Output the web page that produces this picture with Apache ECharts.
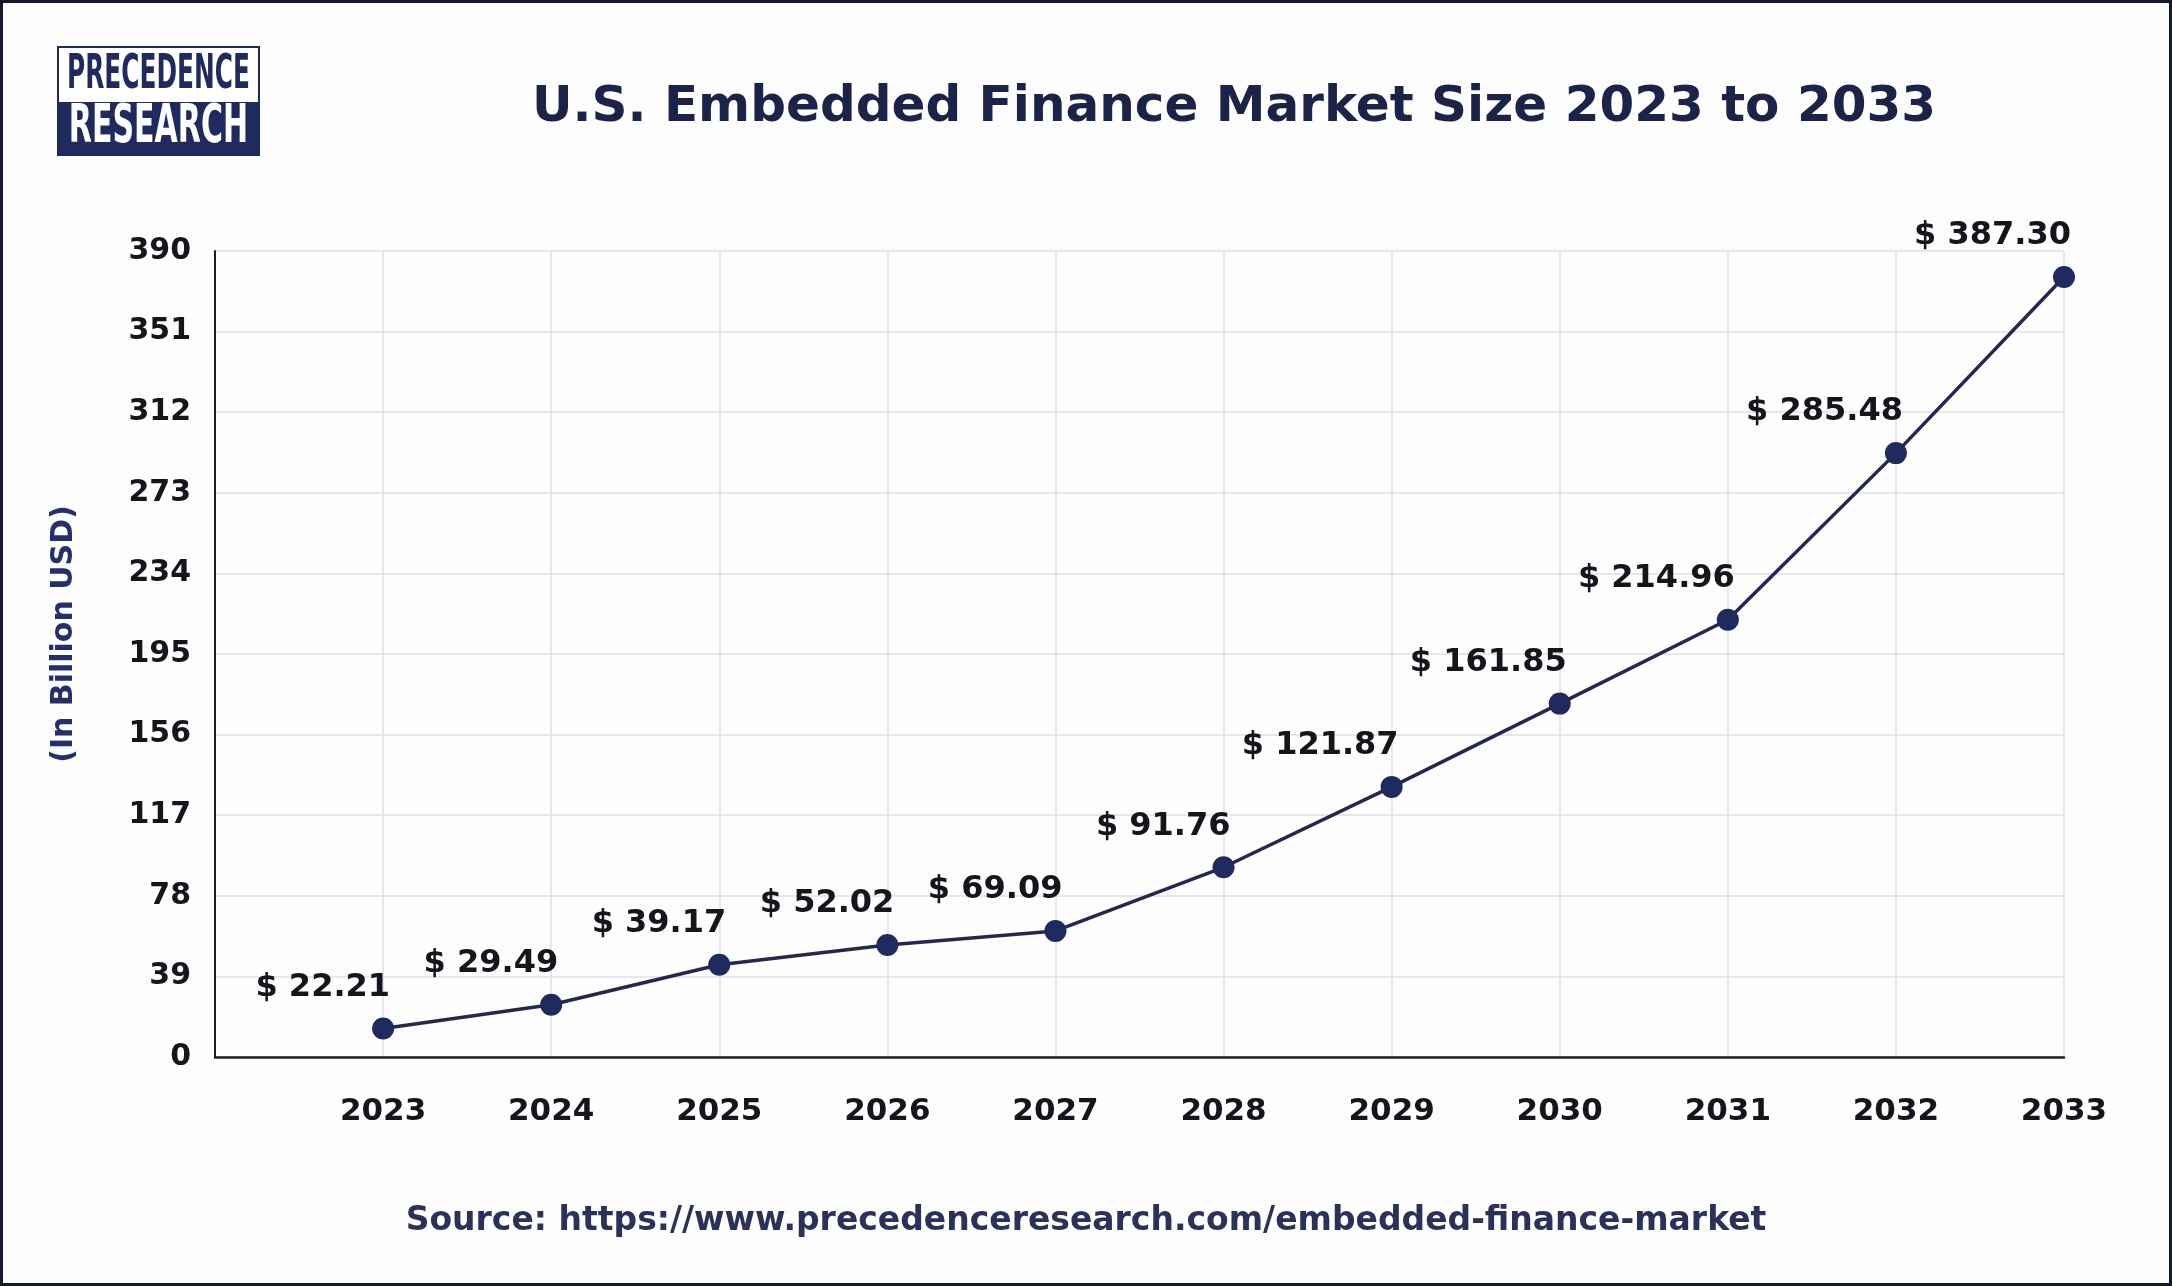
<!DOCTYPE html>
<html>
<head>
<meta charset="utf-8">
<script src="https://cdn.jsdelivr.net/npm/echarts@6/dist/echarts.min.js"></script>
<style>
  html, body { margin: 0; padding: 0; background: #fdfdfe; }
  #chart { width: 2172px; height: 1286px; }
</style>
</head>
<body>
<div id="chart"></div>
<script>
// ---- Data ----
const years = [2023, 2024, 2025, 2026, 2027, 2028, 2029, 2030, 2031, 2032, 2033];
// plotted positions of the markers
const values = [13.8, 25.3, 44.6, 54.2, 61.0, 91.8, 130.7, 171.0, 211.6, 292.2, 377.4];
// printed value labels
const valueLabels = ['$ 22.21', '$ 29.49', '$ 39.17', '$ 52.02', '$ 69.09', '$ 91.76',
                     '$ 121.87', '$ 161.85', '$ 214.96', '$ 285.48', '$ 387.30'];
const yTicks = [0, 39, 78, 117, 156, 195, 234, 273, 312, 351, 390];

const titleText = 'U.S. Embedded Finance Market Size 2023 to 2033';
const yAxisName = '(In Billion USD)';
const sourceText = 'Source: https://www.precedenceresearch.com/embedded-finance-market';

const FONT = "'DejaVu Sans', 'Liberation Sans', sans-serif";
const NAVY = '#1f2a5e';

const chart = echarts.init(document.getElementById('chart'), null, { renderer: 'canvas' });

const seriesData = years.map((y, i) => [y, values[i]]);

const option = {
  backgroundColor: '#fdfdfe',
  animation: false,
  grid: { left: 215, right: 108, top: 251, bottom: 229, containLabel: false },
  xAxis: {
    type: 'value',
    min: years[0] - 1,
    max: years[years.length - 1],
    interval: 1,
    axisLine: { show: true, lineStyle: { color: '#1e1e24', width: 2.5 } },
    axisTick: { show: false },
    axisLabel: {
      margin: 39,
      fontFamily: FONT, fontWeight: 'bold', fontSize: 31, color: '#15151c',
      formatter: v => (years.indexOf(v) >= 0 ? String(v) : '')
    },
    splitLine: { show: true, lineStyle: { color: '#dcdfe8', width: 1.5 } }
  },
  yAxis: {
    type: 'value',
    min: yTicks[0],
    max: yTicks[yTicks.length - 1],
    interval: yTicks[1] - yTicks[0],
    axisLine: { show: true, lineStyle: { color: '#1e1e24', width: 2 } },
    axisTick: { show: false },
    axisLabel: {
      margin: 24,
      fontFamily: FONT, fontWeight: 'bold', fontSize: 30, color: '#15151c'
    },
    splitLine: { show: true, lineStyle: { color: '#e6e7eb', width: 2 } }
  },
  series: [{
    type: 'line',
    data: seriesData,
    symbol: 'circle',
    symbolSize: 22,
    itemStyle: { color: NAVY },
    lineStyle: { color: '#25284d', width: 3.5 },
    label: {
      show: true,
      position: 'top',
      align: 'right',
      offset: [7, -9],
      fontFamily: FONT, fontWeight: 'bold', fontSize: 32, color: '#15151c',
      formatter: p => valueLabels[p.dataIndex]
    },
    z: 5
  }],
  graphic: [
    // outer border
    { type: 'rect', z: 100, silent: true,
      shape: { x: 1.5, y: 1.5, width: 2169, height: 1283 },
      style: { fill: 'none', stroke: '#15182e', lineWidth: 3 } },
    // logo
    { type: 'rect', z: 100,
      shape: { x: 58, y: 47, width: 201, height: 108 },
      style: { fill: '#ffffff', stroke: NAVY, lineWidth: 2 } },
    { type: 'rect', z: 101,
      shape: { x: 58, y: 102, width: 201, height: 53 },
      style: { fill: NAVY } },
    { type: 'text', z: 102, x: 158.5, y: 76, scaleX: 0.517,
      style: { text: 'PRECEDENCE', fill: NAVY, textAlign: 'center', textVerticalAlign: 'middle',
               font: "bold 48px 'DejaVu Sans', sans-serif" } },
    { type: 'text', z: 102, x: 158.5, y: 128, scaleX: 0.556,
      style: { text: 'RESEARCH', fill: '#ffffff', textAlign: 'center', textVerticalAlign: 'middle',
               font: "bold 54px 'DejaVu Sans', sans-serif" } },
    // title
    { type: 'text', z: 100, x: 1234, y: 108,
      style: { text: titleText, fill: '#1b2348', textAlign: 'center', textVerticalAlign: 'middle',
               font: "bold 50px 'DejaVu Sans', sans-serif" } },
    // y axis name
    { type: 'text', z: 100, x: 64, y: 634, rotation: Math.PI / 2,
      style: { text: yAxisName, fill: '#252f6b', textAlign: 'center', textVerticalAlign: 'middle',
               font: "bold 30px 'DejaVu Sans', sans-serif" } },
    // source
    { type: 'text', z: 100, x: 1086, y: 1221,
      style: { text: sourceText, fill: '#2b3259', textAlign: 'center', textVerticalAlign: 'middle',
               font: "bold 33px 'DejaVu Sans', sans-serif" } }
  ]
};

chart.setOption(option);
</script>
</body>
</html>
